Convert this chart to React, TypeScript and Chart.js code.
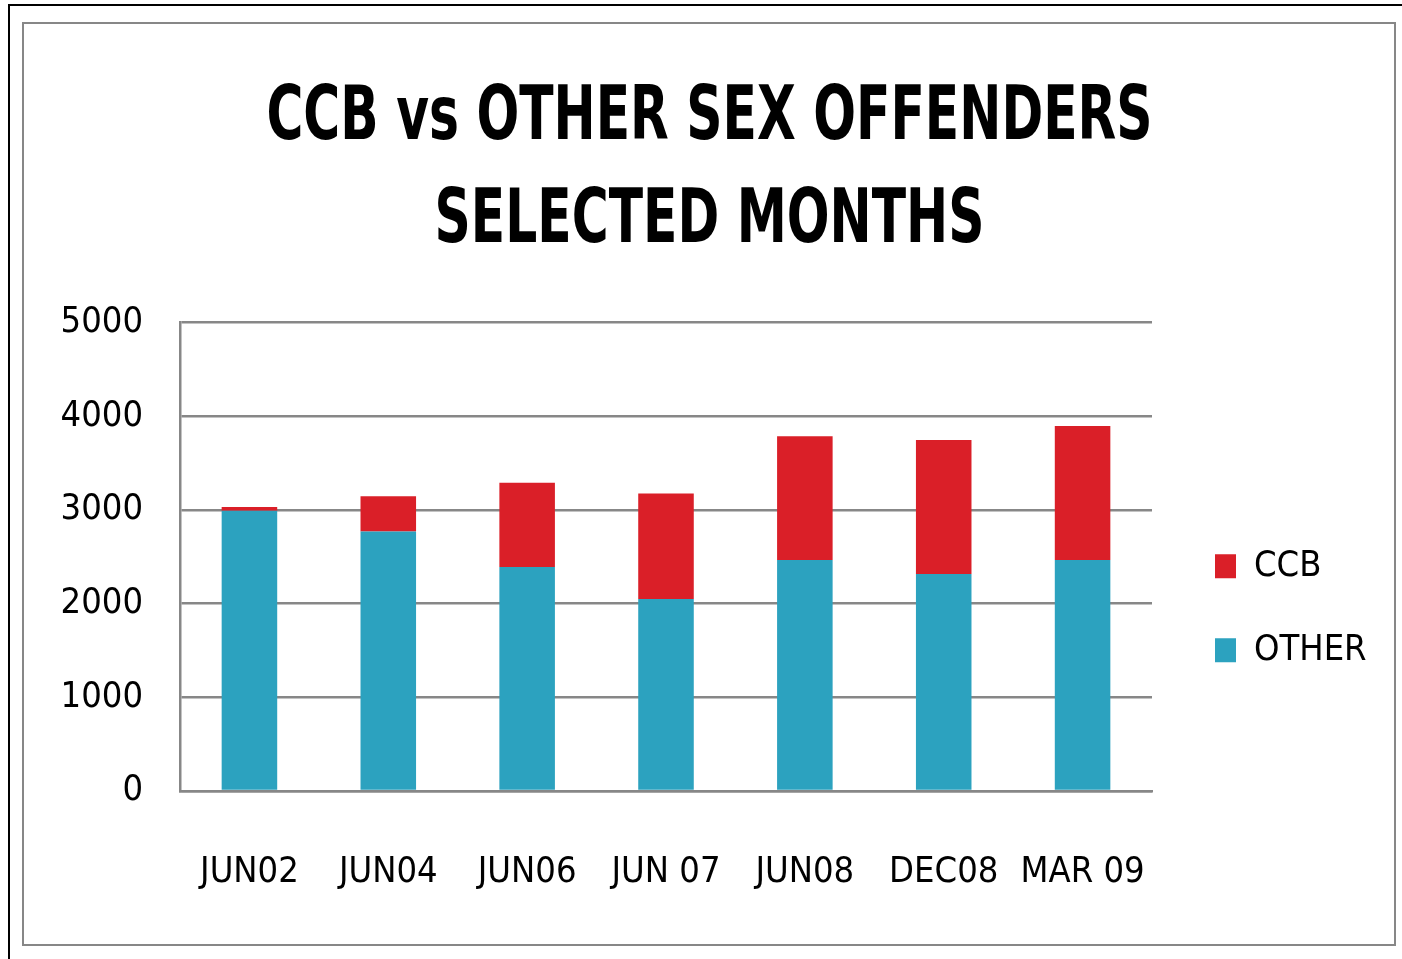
import React, { useEffect, useRef } from "react";
import { Chart, registerables } from "chart.js";

Chart.register(...registerables);

const categories = ["JUN02", "JUN04", "JUN06", "JUN 07", "JUN08", "DEC08", "MAR 09"];
const otherValues = [2990, 2770, 2390, 2050, 2465, 2315, 2465];
const ccbValues = [40, 375, 900, 1125, 1320, 1430, 1430];
const titleLines = ["CCB vs OTHER SEX OFFENDERS", "SELECTED MONTHS"];
const yMin = 0;
const yMax = 5000;
const yStep = 1000;

const FONT = "'DejaVu Sans Condensed', 'Liberation Sans Narrow', sans-serif";
const RED = "#DA1F28";
const BLUE = "#2CA2BF";
const GRID = "#878787";
const TITLE_SQUEEZE = 0.756;
const TITLE_SHIFT = 12;

const squeezeTitle = {
  id: "squeezeTitle",
  beforeDraw(chart: any) {
    const tb = chart.titleBlock;
    if (!tb || tb.__squeezed) return;
    const orig = tb.draw.bind(tb);
    tb.draw = (area: any) => {
      const ctx = chart.ctx;
      const cx = (tb.left + tb.right) / 2;
      ctx.save();
      ctx.translate(cx + TITLE_SHIFT, 0);
      ctx.scale(TITLE_SQUEEZE, 1);
      ctx.translate(-cx, 0);
      orig(area);
      ctx.restore();
    };
    tb.__squeezed = true;
  },
};

export default function App() {
  const ref = useRef<HTMLCanvasElement | null>(null);

  useEffect(() => {
    if (!ref.current) return;
    const chart = new Chart(ref.current, {
      type: "bar",
      data: {
        labels: categories,
        datasets: [
          { label: "OTHER", data: otherValues, backgroundColor: BLUE, borderWidth: 0 },
          { label: "CCB", data: ccbValues, backgroundColor: RED, borderWidth: 0 },
        ],
      },
      plugins: [squeezeTitle],
      options: {
        responsive: false,
        animation: false,
        devicePixelRatio: 1,
        layout: { padding: { left: 0, right: 23, top: 0, bottom: 49 } },
        datasets: { bar: { barPercentage: 0.4, categoryPercentage: 1.0 } },
        plugins: {
          tooltip: { enabled: false },
          title: {
            display: true,
            text: titleLines,
            color: "#000",
            font: { family: FONT, weight: "bold", size: 74, lineHeight: 1.392 },
            padding: { top: 44, bottom: 48.5 },
          },
          legend: {
            display: true,
            position: "right",
            fullSize: false,
            reverse: true,
            align: "center",
            maxWidth: 204,
            title: { display: true, text: "", font: { size: 10, lineHeight: 1.2 }, padding: { top: 45.5, bottom: 45.5 } },
            labels: {
              boxWidth: 21,
              boxHeight: 24,
              padding: 48,
              color: "#000",
              font: { family: FONT, size: 36 },
            },
          },
        },
        scales: {
          x: {
            stacked: true,
            grid: { display: false, drawTicks: false },
            border: { display: true, color: GRID, width: 2.5 },
            ticks: { color: "#000", font: { family: FONT, size: 36 }, padding: 60, maxRotation: 0, autoSkip: false },
            afterFit: (s: any) => { s.height = 104; },
          },
          y: {
            stacked: true,
            min: yMin,
            max: yMax,
            grid: { color: GRID, lineWidth: 2.5, drawTicks: false },
            border: { display: true, color: GRID, width: 2.5 },
            ticks: {
              stepSize: yStep,
              color: "#000",
              font: { family: FONT, size: 36 },
              padding: 37,
              callback: (v: any) => String(v),
            },
            afterFit: (s: any) => { s.width = 156; },
          },
          y2: {
            position: "right",
            display: true,
            min: yMin,
            max: yMax,
            grid: { display: false, drawTicks: false },
            border: { display: false },
            ticks: { display: false },
            afterFit: (s: any) => { s.width = 15; },
          },
        },
      } as any,
    });
    return () => chart.destroy();
  }, []);

  return (
    <div style={{ position: "fixed", left: 0, top: 0, width: 1402, height: 959, background: "#fff", overflow: "hidden" }}>
      <div
        style={{
          position: "absolute",
          left: 8,
          top: 4,
          width: 1500,
          height: 1100,
          borderTop: "2px solid #000",
          borderLeft: "2px solid #000",
        }}
      />
      <div
        style={{
          position: "absolute",
          left: 22,
          top: 22,
          width: 1370,
          height: 920,
          border: "2px solid " + GRID,
          background: "#fff",
        }}
      >
        <canvas ref={ref} width={1370} height={920} style={{ display: "block", width: 1370, height: 920 }} />
      </div>
    </div>
  );
}
